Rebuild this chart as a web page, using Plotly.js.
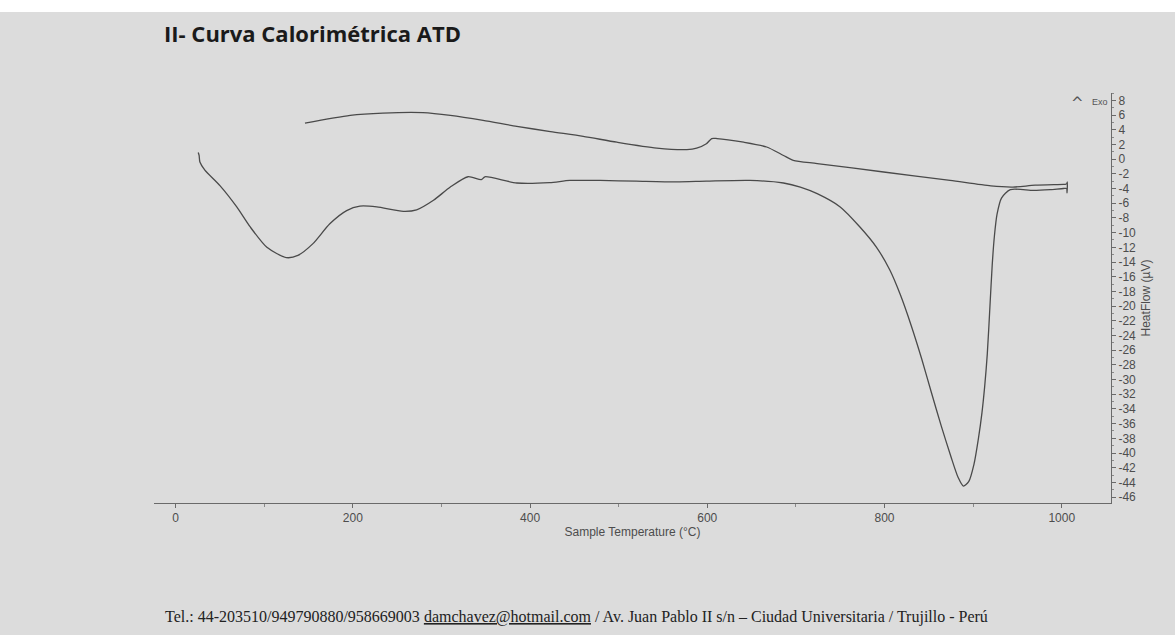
<!DOCTYPE html>
<html>
<head>
<meta charset="utf-8">
<script src="https://cdn.plot.ly/plotly-3.0.1.min.js"></script>
<style>
html,body{margin:0;padding:0;background:#ffffff;}
#wrap{position:absolute;left:0;top:12px;width:1175px;height:623px;background:#dcdcdc;}
#chart{width:1175px;height:623px;}
</style>
</head>
<body>
<div id="wrap"><div id="chart"></div></div>
<script>
// Heating curve (sample temperature °C, heat flow µV)
const heatTemp = [25.5, 26.5, 27.4, 33, 50, 69, 84, 103, 125, 138, 155, 174, 193, 208, 227, 257, 272, 291, 310, 330, 345, 349, 385, 422, 445, 479, 520, 565, 599, 648, 686, 705, 724, 750, 772, 791, 806, 818, 830, 842, 853, 864, 875, 883, 889, 895, 901, 906, 910, 913, 916, 919, 921.5, 924, 927, 932, 942, 968, 987, 1002, 1005.5, 1006, 1006.3, 1005.5];
const heatFlow = [0.9, 0.5, -0.4, -1.5, -3.6, -6.5, -9.2, -12, -13.4, -13.1, -11.5, -8.8, -7.0, -6.4, -6.5, -7.1, -6.9, -5.6, -3.8, -2.4, -2.8, -2.4, -3.25, -3.2, -2.9, -2.9, -3.0, -3.1, -3.0, -2.9, -3.25, -3.8, -4.7, -6.5, -9.2, -12, -15.1, -18.5, -22.6, -27.2, -31.8, -36.3, -40.5, -43.3, -44.5, -43.9, -41.5, -38, -34.5, -31, -26.5, -20, -14.5, -10.5, -7.5, -5.3, -4.15, -4.25, -4.15, -4.0, -4.0, -4.6, -3.1, -3.4];
// Cooling curve
const coolTemp = [1005.5, 1002, 970, 945, 920, 874, 799, 724, 697, 686, 667, 641, 611, 605, 599, 588, 577, 543, 498, 460, 423, 385, 347, 310, 279, 234, 197, 146];
const coolFlow = [-3.4, -3.43, -3.55, -3.8, -3.65, -2.9, -1.75, -0.6, -0.16, 0.5, 1.65, 2.3, 2.8, 2.8, 2.1, 1.5, 1.3, 1.5, 2.3, 3.1, 3.75, 4.46, 5.28, 5.96, 6.33, 6.27, 5.96, 4.9];
// Axis ticks
const xTickVals = [0, 200, 400, 600, 800, 1000];
const yTickVals = [8,6,4,2,0,-2,-4,-6,-8,-10,-12,-14,-16,-18,-20,-22,-24,-26,-28,-30,-32,-34,-36,-38,-40,-42,-44,-46];
const yTickText = yTickVals.map(v => String(v));

const L = 154, R = 1111, T = 93, B = 503;
const px = p => (p - L) / (R - L);
const py = p => (B - p) / (B - T);

const lineStyle = {color: '#4a4a4a', width: 1.3, shape: 'spline', smoothing: 0.7};

const traces = [
  {x: heatTemp, y: heatFlow, mode: 'lines', line: lineStyle, hoverinfo: 'skip'},
  {x: coolTemp, y: coolFlow, mode: 'lines', line: lineStyle, hoverinfo: 'skip'}
];

const tickFont = {family: 'Liberation Sans, Arial, sans-serif', size: 12, color: '#4d4d4d'};

const layout = {
  width: 1175, height: 623,
  margin: {l: L, r: 1175 - R, t: T - 12, b: 635 - B, pad: 0},
  paper_bgcolor: '#dcdcdc', plot_bgcolor: '#dcdcdc',
  showlegend: false,
  xaxis: {
    range: [-24.4, 1055.6], showgrid: false, zeroline: false,
    showline: true, linecolor: '#6a6a6a', linewidth: 1,
    tickvals: xTickVals, ticks: 'outside', ticklen: 4, tickcolor: '#6a6a6a',
    minor: {dtick: 100, tick0: 0, ticks: 'outside', ticklen: 3, tickcolor: '#8a8a8a'},
    tickfont: tickFont,
    title: {text: 'Sample Temperature (°C)', font: {family: 'Liberation Sans, Arial, sans-serif', size: 12, color: '#4d4d4d'}, standoff: 2}
  },
  yaxis: {
    side: 'right', range: [-46.8, 9.0], showgrid: false, zeroline: false,
    showline: true, linecolor: '#6a6a6a', linewidth: 1,
    tickvals: yTickVals, ticktext: yTickText, ticks: 'outside', ticklen: 4, tickcolor: '#6a6a6a',
    minor: {dtick: 1, tick0: 0, ticks: 'outside', ticklen: 2, tickcolor: '#8a8a8a'},
    tickfont: tickFont,
    title: {text: 'HeatFlow (µV)', font: {family: 'Liberation Sans, Arial, sans-serif', size: 12, color: '#4d4d4d'}, standoff: 6}
  },
  annotations: [
    {xref: 'paper', yref: 'paper', x: px(162), y: py(33), xanchor: 'left', yanchor: 'middle', showarrow: false,
     text: '<b>II- Curva Calorimétrica ATD</b>', font: {family: 'Open Sans, sans-serif', size: 22, color: '#1a1a1a'}},
    {xref: 'paper', yref: 'paper', x: px(163), y: py(617), xanchor: 'left', yanchor: 'middle', showarrow: false,
     text: 'Tel.: 44-203510/949790880/958669003 <span style="text-decoration:underline">damchavez@hotmail.com</span> / Av. Juan Pablo II s/n – Ciudad Universitaria / Trujillo - Perú',
     font: {family: 'Liberation Serif, Times New Roman, serif', size: 16, color: '#222'}},
    {xref: 'paper', yref: 'paper', x: px(1077), y: py(103), xanchor: 'center', yanchor: 'middle', showarrow: false,
     text: '^', font: {family: 'DejaVu Sans, sans-serif', size: 15, color: '#555'}},
    {xref: 'paper', yref: 'paper', x: px(1110), y: py(102), xanchor: 'right', yanchor: 'middle', showarrow: false,
     text: 'Exo', font: {family: 'Liberation Sans, Arial, sans-serif', size: 9, color: '#555'}}
  ]
};

Plotly.newPlot('chart', traces, layout, {staticPlot: true, displayModeBar: false});
</script>
</body>
</html>
